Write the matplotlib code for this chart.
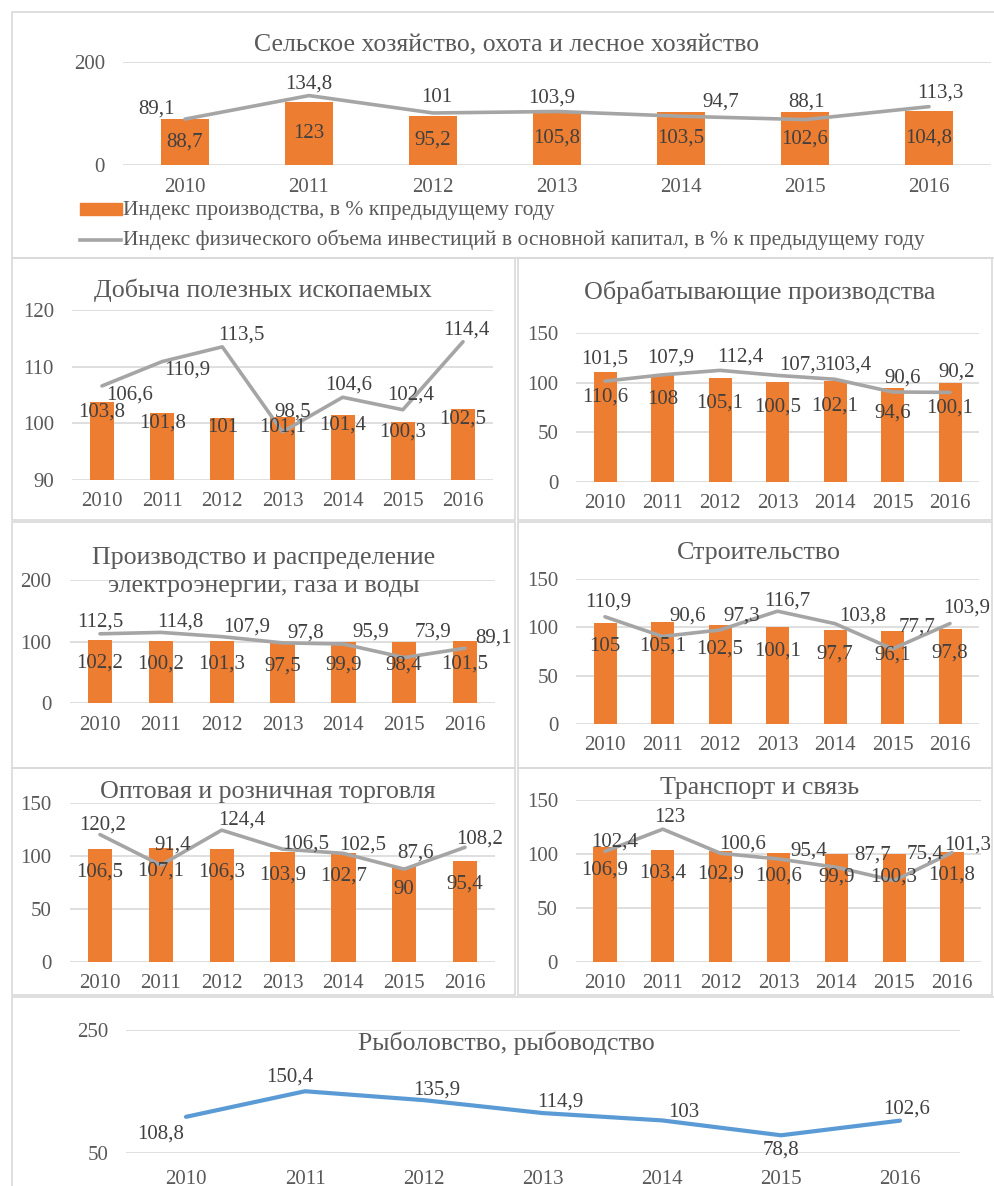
import matplotlib.pyplot as plt
from matplotlib.patches import Rectangle
from matplotlib.lines import Line2D

# values (indices, % to previous year)
years = ['2010', '2011', '2012', '2013', '2014', '2015', '2016']

agri_prod = [88.7, 123, 95.2, 105.8, 103.5, 102.6, 104.8]
agri_inv = [89.1, 134.8, 101, 103.9, 94.7, 88.1, 113.3]

mining_prod = [103.8, 101.8, 101, 101.1, 101.4, 100.3, 102.5]
mining_inv = [106.6, 110.9, 113.5, 98.5, 104.6, 102.4, 114.4]

manuf_prod = [110.6, 108, 105.1, 100.5, 102.1, 94.6, 100.1]
manuf_inv = [101.5, 107.9, 112.4, 107.3, 103.4, 90.6, 90.2]

energy_prod = [102.2, 100.2, 101.3, 97.5, 99.9, 98.4, 101.5]
energy_inv = [112.5, 114.8, 107.9, 97.8, 95.9, 73.9, 89.1]

constr_prod = [105, 105.1, 102.5, 100.1, 97.7, 96.1, 97.8]
constr_inv = [110.9, 90.6, 97.3, 116.7, 103.8, 77.7, 103.9]

trade_prod = [106.5, 107.1, 106.3, 103.9, 102.7, 90, 95.4]
trade_inv = [120.2, 91.4, 124.4, 106.5, 102.5, 87.6, 108.2]

transp_prod = [106.9, 103.4, 102.9, 100.6, 99.9, 100.3, 101.8]
transp_inv = [102.4, 123, 100.6, 95.4, 87.7, 75.4, 101.3]

fish = [108.8, 150.4, 135.9, 114.9, 103, 78.8, 102.6]

legend_prod = 'Индекс производства, в % кпредыдущему году'
legend_inv = 'Индекс физического объема инвестиций в основной капитал, в % к предыдущему году'

ORANGE = '#ED7D31'
GREY = '#A5A5A5'
BLUE = '#5B9BD5'
TXT = '#404040'
TITLE = '#595959'
GRID = '#D9D9D9'
FS = 15

plt.rcParams['font.family'] = ['Liberation Serif', 'DejaVu Serif']

W, H = 995, 1186
fig = plt.figure(figsize=(W / 100, H / 100), dpi=100)


def fmt(v):
    return f'{v:g}'.replace('.', ',')


def box(x0, y0, x1, y1):
    fig.add_artist(Rectangle((x0 / W, 1 - y1 / H), (x1 - x0) / W, (y1 - y0) / H,
                             transform=fig.transFigure, fill=False,
                             ec=GRID, lw=1.2))


def title(x, y, s, size):
    fig.text(x / W, 1 - y / H, s, ha='center', va='center', fontsize=size,
             color=TITLE, linespacing=1.3)


def make_axes(x_first, x_last, y_lo, y_hi, ylim, yticks):
    sp = (x_last - x_first) / 6
    left = x_first - sp / 2
    ax = fig.add_axes([left / W, 1 - y_lo / H, 7 * sp / W, (y_lo - y_hi) / H])
    ax.set_xlim(-0.5, 6.5)
    ax.set_ylim(*ylim)
    ax.set_yticks(yticks)
    ax.set_xticks(range(len(years)), years)
    for s in ax.spines.values():
        s.set_visible(False)
    ax.grid(axis='y', color=GRID, lw=1.2)
    ax.set_axisbelow(True)
    ax.tick_params(length=0, labelsize=FS, labelcolor=TITLE)
    ax.tick_params(axis='x', pad=9)
    ax.tick_params(axis='y', pad=13)
    ax.patch.set_alpha(0)
    return ax


def bars(ax, vals, width, dy=None):
    x = range(len(vals))
    ax.bar(x, vals, width=width, color=ORANGE, zorder=2)
    base = ax.get_ylim()[0]
    for i, v in enumerate(vals):
        if dy is None:
            ax.annotate(fmt(v), (i, (base + v) / 2), ha='center', va='center',
                        fontsize=FS, color=TXT, zorder=4)
        else:
            ax.annotate(fmt(v), (i, v), xytext=(0, -dy), textcoords='offset pixels',
                        ha='center', va='center', fontsize=FS, color=TXT, zorder=4)


def line(ax, vals, offs, color=GREY, lw=2.6):
    x = range(len(vals))
    ax.plot(x, vals, color=color, lw=lw, zorder=3, solid_capstyle='round')
    for i, v in enumerate(vals):
        dx, dy = offs[i]
        ax.annotate(fmt(v), (i, v), xytext=(dx, -dy), textcoords='offset pixels',
                    ha='center', va='center', fontsize=FS, color=TXT, zorder=5)


# panel frames
box(12, 12, 1005, 258)
box(12, 258, 515, 520)
box(518, 258, 992, 520)
box(12, 522, 515, 768)
box(518, 522, 992, 768)
box(12, 768, 515, 995)
box(518, 768, 992, 995)
box(12, 997, 1005, 1200)

# agriculture (top)
ax = make_axes(185, 929, 165, 62, (0, 200), [0, 200])
bars(ax, agri_prod, 0.39)
line(ax, agri_inv, [(-28, -10), (0, -12), (4, -15), (-5, -13), (40, -14), (2, -18), (11, -14)])
title(507, 45, 'Сельское хозяйство, охота и лесное хозяйство', 18.5)

fig.add_artist(Rectangle((80 / W, 1 - 215 / H), 42 / W, 12 / H,
                         transform=fig.transFigure, color=ORANGE))
fig.text(123 / W, 1 - 210 / H, legend_prod, va='center', fontsize=15.5, color=TITLE)
fig.add_artist(Line2D([80 / W, 121 / W], [1 - 240 / H, 1 - 240 / H],
                      transform=fig.transFigure, color=GREY, lw=2.6))
fig.text(123 / W, 1 - 240 / H, legend_inv, va='center', fontsize=15.5, color=TITLE)

# mining
ax = make_axes(102, 463, 480, 310, (90, 120), [90, 100, 110, 120])
bars(ax, mining_prod, 0.4, dy=10)
line(ax, mining_inv, [(28, 9), (25, 8), (19, -12), (10, -20), (6, -12), (8, -15), (3, -12)])
title(263, 290, 'Добыча полезных ископаемых', 18.7)

# manufacturing
ax = make_axes(605, 950, 482, 333, (0, 150), [0, 50, 100, 150])
bars(ax, manuf_prod, 0.4, dy=25)
line(ax, manuf_inv, [(0, -22), (8, -17), (20, -13), (25, -10), (13, -14), (10, -14), (7, -20)])
title(760, 292, 'Обрабатывающие производства', 18.7)

# energy
ax = make_axes(100, 465, 703, 580, (0, 200), [0, 100, 200])
bars(ax, energy_prod, 0.4, dy=23)
line(ax, energy_inv, [(0, -12), (19, -10), (25, -10), (23, -10), (27, -12), (29, -26), (28, -10)])
title(264, 572, 'Производство и распределение\nэлектроэнергии, газа и воды', 18.7)

# construction
ax = make_axes(605, 950, 724, 579, (0, 150), [0, 50, 100, 150])
bars(ax, constr_prod, 0.4, dy=24)
line(ax, constr_inv, [(3, -15), (25, -20), (22, -14), (10, -10), (28, -8), (25, -22), (17, -16)])
title(759, 553, 'Строительство', 18.7)

# trade
ax = make_axes(100, 465, 962, 803, (0, 150), [0, 50, 100, 150])
bars(ax, trade_prod, 0.4, dy=23)
line(ax, trade_inv, [(3, -10), (12, -20), (20, -10), (23, -5), (19, -8), (11, -16), (15, -8)])
title(268, 792, 'Оптовая и розничная торговля', 18.7)

# transport
ax = make_axes(605, 952, 962, 800, (0, 150), [0, 50, 100, 150])
bars(ax, transp_prod, 0.4, dy=23)
line(ax, transp_inv, [(10, -9), (7, -12), (22, -9), (30, -8), (36, -12), (31, -27), (16, -8)])
title(760, 788, 'Транспорт и связь', 18.7)

# fishing
ax = make_axes(186, 900, 1153, 1030, (50, 250), [50, 250])
ax.tick_params(axis='x', pad=12)
line(ax, fish, [(-25, 17), (-15, -14), (13, -10), (17, -11), (22, -8), (0, 15), (7, -12)],
     color=BLUE, lw=3)
title(506, 1043, 'Рыболовство, рыбоводство', 18.5)

fig.savefig('out.png', dpi=100)
